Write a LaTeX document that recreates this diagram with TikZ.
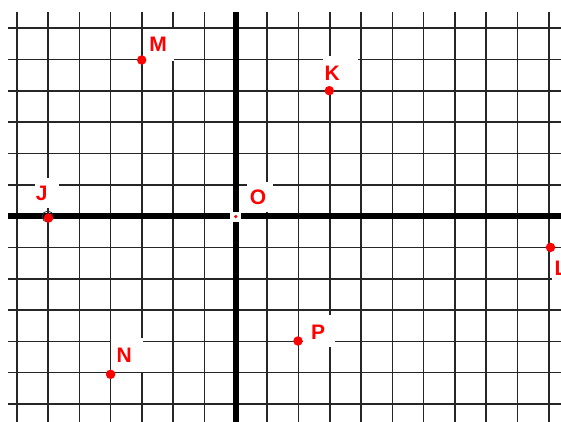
\documentclass[tikz,border=0pt]{standalone}
\usepackage{fontspec}
\setmainfont{Liberation Sans}
\begin{document}
\begin{tikzpicture}[x=1pt,y=-1pt,
  gridline/.style={line width=1.6pt,black!85},
  axisline/.style={line width=6pt,black},
  dot/.style={circle,fill=red,draw=none,minimum size=9.5pt,inner sep=0pt},
  lbl/.style={text=red,font=\fontsize{21}{21}\selectfont\bfseries,inner sep=0pt,anchor=center},
  wbox/.style={fill=white,draw=none}]
\useasboundingbox (0,0) rectangle (561,422);
\fill[white] (0,0) rectangle (561,422);
\begin{scope}
\clip (0,0) rectangle (561,422);
% grid
\foreach \k in {0,...,17}{
  \draw[gridline] ({16.7+31.3*\k},12) -- ({16.7+31.3*\k},422);
}
\foreach \j in {0,...,12}{
  \draw[gridline] (8,{28.3+31.3*\j}) -- (561,{28.3+31.3*\j});
}
% axes
\draw[axisline] (235.8,12) -- (235.8,422);
\draw[axisline] (8,216.1) -- (561,216.1);
% label backgrounds
\fill[wbox] (143,29) rectangle (174,61);   % M
\fill[wbox] (323,56) rectangle (358,88);   % K
\fill[wbox] (246.7,182) rectangle (272.7,211.7); % O
\fill[wbox] (35,178) rectangle (59,208);   % J
\fill[wbox] (111,338) rectangle (142.8,372.3); % N
\fill[wbox] (303,315) rectangle (335,347); % P
\fill[wbox] (552,251) rectangle (561,295); % L
\fill[wbox] (230,211.8) rectangle (241.3,221.7); % origin
% points
\node[dot] (M) at (141.7,60) {};
\node[dot] (K) at (329.3,90.7) {};
\draw[black!80,line width=0.8pt] (47.7,216.6) circle (5.6pt);
\node[dot] (J) at (48.4,218) {};
\node[dot] (L) at (550.5,247.4) {};
\node[dot] (N) at (110.6,374.3) {};
\node[dot] (P) at (298,341) {};
\node[circle,fill=red,minimum size=3.6pt,inner sep=0pt] (O) at (235.8,216.6) {};
% labels
\node[lbl] (Mlab) at (158,44.7) {M};
\node[lbl] (Klab) at (332.2,73.3) {K};
\node[lbl] (Olab) at (258,197.3) {O};
\node[lbl] (Jlab) at (41.7,193.7) {J};
\node[lbl,anchor=west] (Llab) at (554.5,268.5) {L};
\node[lbl] (Nlab) at (124.2,355) {N};
\node[lbl] (Plab) at (318,332.5) {P};
\end{scope}
\end{tikzpicture}
\end{document}
